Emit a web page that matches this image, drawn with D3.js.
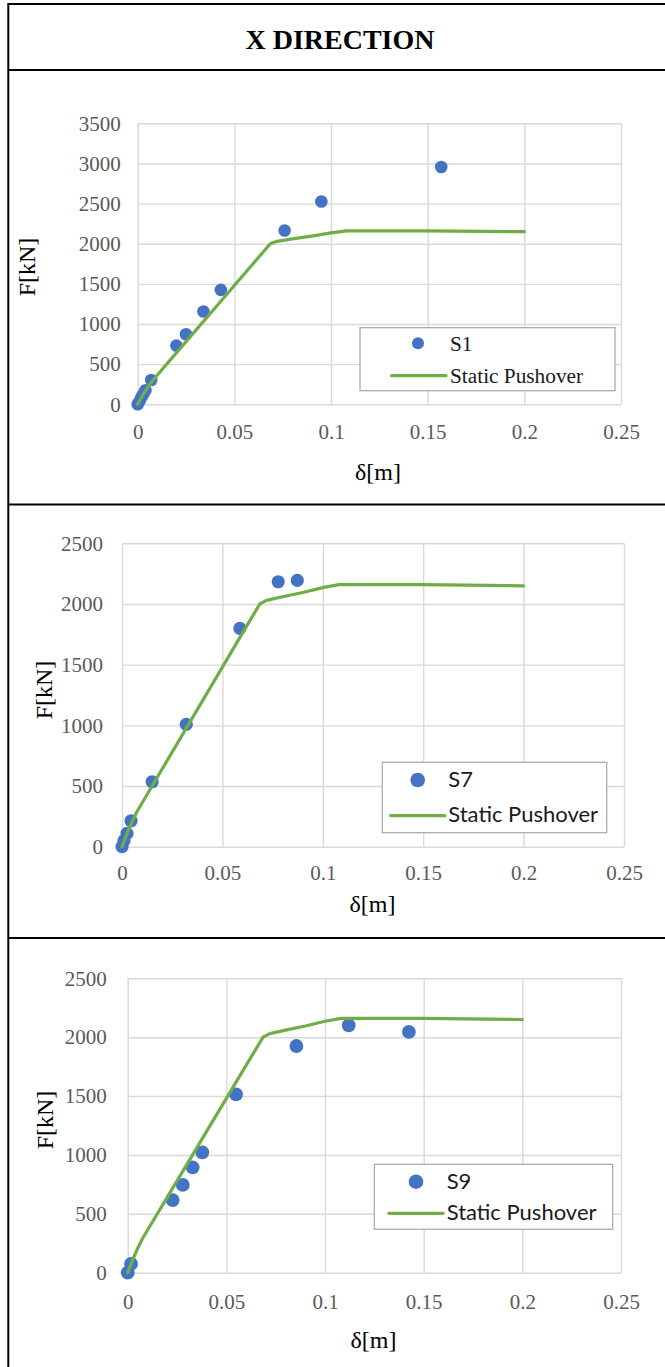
<!DOCTYPE html>
<html>
<head>
<meta charset="utf-8">
<script src="https://cdn.jsdelivr.net/npm/d3@7"></script>
<style>
  html, body { margin: 0; padding: 0; background: #fff; }
  svg { display: block; }
</style>
</head>
<body>
<svg id="chart" width="665" height="1367"></svg>
<script>
// Static pushover capacity curve (displacement in m, base shear in kN)
const pushoverDisp  = [0, 0.0025, 0.005, 0.0075, 0.02, 0.04, 0.06, 0.0686, 0.072, 0.08, 0.09, 0.1, 0.108, 0.15, 0.2];
const pushoverForce = [0, 110, 205, 290, 640, 1200, 1760, 2000, 2030, 2060, 2095, 2135, 2160, 2160, 2150];

// Dynamic results, record S1
const s1Disp  = [0, 0.001, 0.002, 0.003, 0.004, 0.007, 0.020, 0.025, 0.034, 0.043, 0.076, 0.095, 0.157];
const s1Force = [0, 40, 90, 130, 175, 303, 731, 873, 1155, 1425, 2164, 2526, 2955];

// Dynamic results, record S7
const s7Disp  = [0, 0.001, 0.0025, 0.0045, 0.015, 0.032, 0.0587, 0.0778, 0.0873];
const s7Force = [0, 50, 110, 214, 535, 1008, 1799, 2183, 2194];

// Dynamic results, record S9
const s9Disp  = [0, 0.0017, 0.0228, 0.0279, 0.0329, 0.0378, 0.0549, 0.0855, 0.112, 0.1425];
const s9Force = [0, 74, 617, 745, 895, 1022, 1515, 1925, 2101, 2045];

// Tick values and labels
const xTicks = [0, 0.05, 0.1, 0.15, 0.2, 0.25];
const xTickLabels = ["0", "0.05", "0.1", "0.15", "0.2", "0.25"];
const yTicksTall = [0, 500, 1000, 1500, 2000, 2500, 3000, 3500];
const yTicksShort = [0, 500, 1000, 1500, 2000, 2500];

const titleText = "X DIRECTION";
const pushoverName = "Static Pushover";

const svg = d3.select("#chart");
const serif = "'Liberation Serif', 'Times New Roman', Times, serif";
const sans = "Lato, Carlito, 'Open Sans', sans-serif";
const blue = "#4472c4", green = "#70ad47", grid = "#d9d9d9", tickColor = "#595959";

// Table frame
const frame = svg.append("g").attr("stroke", "#000").attr("stroke-width", 2);
[4, 70, 504.5, 938].forEach(y => frame.append("line").attr("x1", 8.3).attr("x2", 665).attr("y1", y).attr("y2", y));
frame.append("line").attr("x1", 8.3).attr("x2", 8.3).attr("y1", 3).attr("y2", 1367);

svg.append("text")
  .attr("x", 340).attr("y", 49)
  .attr("text-anchor", "middle")
  .attr("font-family", serif).attr("font-weight", "bold").attr("font-size", 28)
  .text(titleText);

const panels = [
  { name: "S1", xs: s1Disp, ys: s1Force, yTicks: yTicksTall,
    x0: 137.7, x1: 621, yTop: 123.3, yBot: 404.3, r: 6.3,
    xPad: 20, yPad: 17, xTitle: [378, 480], yTitle: [27, 267],
    legend: { x: 360, y: 327.7, w: 255, h: 63, mx: 418, my: 343.3, tx: 450, l1: 391.7, l2: 446, ly: 375.7,
              r1: 350.5, r2: 383, font: serif, size: 21.3, mr: 6 } },
  { name: "S7", xs: s7Disp, ys: s7Force, yTicks: yTicksShort,
    x0: 122, x1: 624, yTop: 543.3, yBot: 846.7, r: 6.6,
    xPad: 18, yPad: 19, xTitle: [372.5, 912], yTitle: [44, 690],
    legend: { x: 382.3, y: 762.3, w: 224.4, h: 70.4, mx: 417.7, my: 780, tx: 448.3, l1: 390.7, l2: 444.7, ly: 815.7,
              r1: 787, r2: 822, font: sans, size: 22, mr: 7.3 } },
  { name: "S9", xs: s9Disp, ys: s9Force, yTicks: yTicksShort,
    x0: 127.7, x1: 621, yTop: 978.3, yBot: 1272.7, r: 6.9,
    xPad: 21, yPad: 21, xTitle: [373.5, 1348], yTitle: [45, 1120],
    legend: { x: 374.3, y: 1164.3, w: 238.4, h: 65, mx: 416, my: 1181.7, tx: 446.7, l1: 389, l2: 443, ly: 1213.3,
              r1: 1188.5, r2: 1220, font: sans, size: 22, mr: 7.3 } }
];

panels.forEach(p => {
  const yMax = p.yTicks[p.yTicks.length - 1];
  const x = d3.scaleLinear().domain([0, 0.25]).range([p.x0, p.x1]);
  const y = d3.scaleLinear().domain([0, yMax]).range([p.yBot, p.yTop]);
  const g = svg.append("g");

  // Vertical gridlines + x tick labels
  const xAxis = g.append("g").attr("transform", `translate(0,${p.yBot})`)
    .call(d3.axisBottom(x).tickValues(xTicks)
      .tickFormat((d, i) => xTickLabels[i])
      .tickSizeInner(-(p.yBot - p.yTop)).tickSizeOuter(0).tickPadding(p.xPad));
  // Horizontal gridlines + y tick labels
  const yAxis = g.append("g").attr("transform", `translate(${p.x0},0)`)
    .call(d3.axisLeft(y).tickValues(p.yTicks).tickFormat(d3.format("d"))
      .tickSizeInner(-(p.x1 - p.x0)).tickSizeOuter(0).tickPadding(p.yPad));
  [xAxis, yAxis].forEach(a => {
    a.attr("font-family", serif).attr("font-size", 21);
    a.select(".domain").remove();
    a.selectAll(".tick line").attr("stroke", grid).attr("stroke-width", 1.4);
    a.selectAll(".tick text").attr("fill", tickColor);
  });

  // Dynamic analysis points
  g.append("g").selectAll("circle")
    .data(p.xs.map((d, i) => [d, p.ys[i]]))
    .join("circle")
    .attr("cx", d => x(d[0])).attr("cy", d => y(d[1]))
    .attr("r", p.r).attr("fill", blue);

  // Pushover curve
  const line = d3.line().x(d => x(d[0])).y(d => y(d[1]));
  g.append("path")
    .datum(pushoverDisp.map((d, i) => [d, pushoverForce[i]]))
    .attr("d", line)
    .attr("fill", "none").attr("stroke", green).attr("stroke-width", 3.2)
    .attr("stroke-linejoin", "round").attr("stroke-linecap", "round");

  // Axis titles
  g.append("text").attr("x", p.xTitle[0]).attr("y", p.xTitle[1])
    .attr("text-anchor", "middle")
    .attr("font-family", serif).attr("font-size", 24).text("δ[m]");
  g.append("text")
    .attr("transform", `translate(${p.yTitle[0]},${p.yTitle[1]}) rotate(-90)`)
    .attr("text-anchor", "middle").attr("dy", "0.35em")
    .attr("font-family", serif).attr("font-size", 24).text("F[kN]");

  // Legend
  const L = p.legend;
  const lg = g.append("g").attr("font-family", L.font).attr("font-size", L.size).attr("fill", "#1a1a1a");
  lg.append("rect").attr("x", L.x).attr("y", L.y).attr("width", L.w).attr("height", L.h)
    .attr("fill", "#fff").attr("stroke", "#a6a6a6").attr("stroke-width", 1.2);
  lg.append("circle").attr("cx", L.mx).attr("cy", L.my).attr("r", L.mr).attr("fill", blue);
  lg.append("line").attr("x1", L.l1).attr("x2", L.l2).attr("y1", L.ly).attr("y2", L.ly)
    .attr("stroke", green).attr("stroke-width", 3.2).attr("stroke-linecap", "round");
  lg.append("text").attr("x", L.tx).attr("y", L.r1).text(p.name);
  lg.append("text").attr("x", L.tx).attr("y", L.r2).text(pushoverName);
});
</script>
</body>
</html>
